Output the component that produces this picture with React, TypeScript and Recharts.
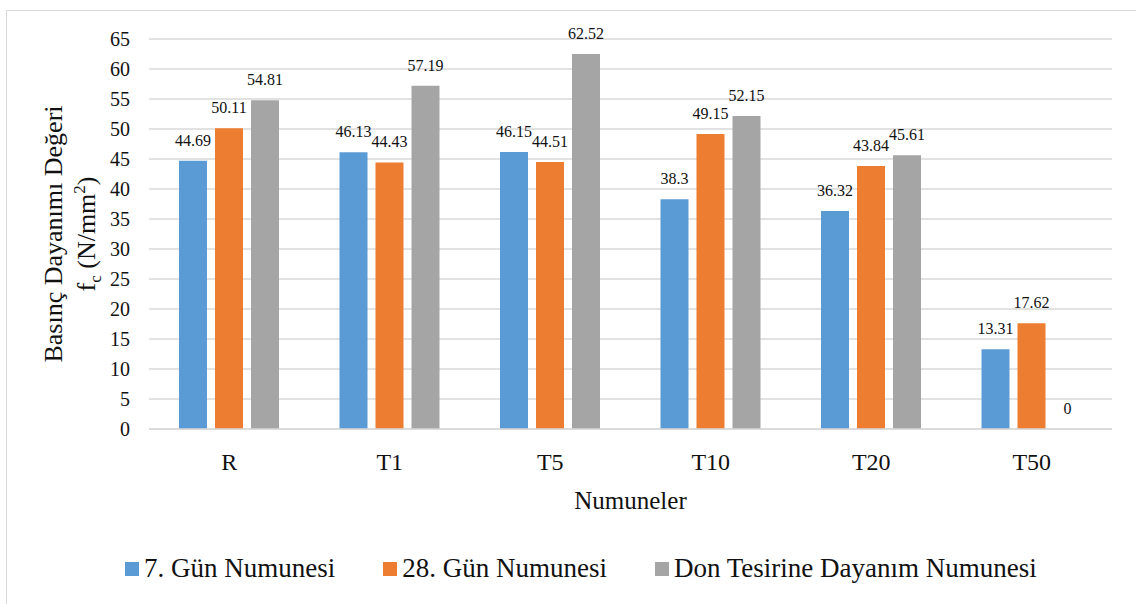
import { BarChart, Bar, XAxis, YAxis, CartesianGrid, LabelList, Legend } from "recharts";

const serif = "'Liberation Serif', 'Times New Roman', serif";
const ink = "#111";
const grid = "#d9d9d9";

const categories = ["R", "T1", "T5", "T10", "T20", "T50"];
const day7 = [44.69, 46.13, 46.15, 38.3, 36.32, 13.31];
const day28 = [50.11, 44.43, 44.51, 49.15, 43.84, 17.62];
const frost = [54.81, 57.19, 62.52, 52.15, 45.61, 0];
const yTicks = [0, 5, 10, 15, 20, 25, 30, 35, 40, 45, 50, 55, 60, 65];

const series = [
  { key: "d7", name: "7. Gün Numunesi", color: "#5B9BD5", values: day7 },
  { key: "d28", name: "28. Gün Numunesi", color: "#ED7D31", values: day28 },
  { key: "frost", name: "Don Tesirine Dayanım Numunesi", color: "#A5A5A5", values: frost },
];

const data = categories.map((c, i) => {
  const row: Record<string, string | number> = { name: c };
  series.forEach((s) => { row[s.key] = s.values[i]; });
  return row;
});

function YTitle() {
  return (
    <g fontFamily={serif} fontSize={26} fill={ink} textAnchor="middle">
      <text x={62} y={234} transform="rotate(-90, 62, 234)">Basınç Dayanımı Değeri</text>
      <text x={95} y={234} transform="rotate(-90, 95, 234)">
        f<tspan dy={6} fontSize={17}>c</tspan>
        <tspan dy={-6}> (N/mm</tspan>
        <tspan dy={-10} fontSize={17}>2</tspan>
        <tspan dy={10}>)</tspan>
      </text>
    </g>
  );
}

// value labels: bar top minus a fixed gap
function ValueLabel(props: any) {
  const { x, y, width, value } = props;
  if (value === undefined || value === null) return null;
  return (
    <text x={Number(x) + Number(width) / 2} y={Number(y) - 15} textAnchor="middle"
      fontFamily={serif} fontSize={16} fill={ink}>
      {String(value)}
    </text>
  );
}

function LegendBox() {
  return (
    <div style={{ display: "flex", alignItems: "center", fontFamily: serif, fontSize: 27, color: ink, lineHeight: "27px", whiteSpace: "nowrap" }}>
      {series.map((s) => (
        <div key={s.key} style={{ display: "flex", alignItems: "center", marginRight: 48 }}>
          <span style={{ width: 14, height: 14, background: s.color, marginRight: 5, display: "inline-block" }} />
          <span>{s.name}</span>
        </div>
      ))}
    </div>
  );
}

export default function App() {
  return (
    <div style={{ position: "fixed", left: 0, top: 0, width: 1136, height: 604, overflow: "hidden", background: "#fff" }}>
      <div style={{ position: "absolute", left: 6, top: 10, width: 1300, height: 800, border: `1.5px solid ${grid}` }} />
      <div style={{ position: "absolute", left: 0, top: 0 }}>
        <BarChart width={1136} height={604} data={data} barSize={28} barGap={8}
          style={{ fontFamily: serif }}
          margin={{ top: 39, right: 24, left: 0, bottom: 0 }}>
          <CartesianGrid vertical={false} stroke={grid} strokeWidth={1.5} />
          <XAxis dataKey="name" height={175} tickSize={0} tickMargin={24}
            axisLine={{ stroke: grid, strokeWidth: 1.5 }} tickLine={false}
            tick={{ fontSize: 24, fill: ink, fontFamily: serif }}
            label={{ value: "Numuneler", position: "insideTop", offset: 62, fontSize: 25, fill: ink, fontFamily: serif }} />
          <YAxis width={149} domain={[0, 65]} ticks={yTicks} interval={0} tickSize={0} tickMargin={19}
            axisLine={false} tickLine={false}
            tick={{ fontSize: 20, fill: ink, fontFamily: serif }}
            label={{ content: () => <YTitle /> }} />
          <Legend layout="horizontal" verticalAlign="middle" align="center"
            wrapperStyle={{ top: 555, left: 125, width: 1000 }} content={() => <LegendBox />} />
          {series.map((s) => (
            <Bar key={s.key} dataKey={s.key} name={s.name} fill={s.color} isAnimationActive={false}
              minPointSize={(v: number) => (v === 0 ? 0.01 : 0)}>
              <LabelList dataKey={s.key} content={<ValueLabel />} />
            </Bar>
          ))}
        </BarChart>
      </div>
    </div>
  );
}
